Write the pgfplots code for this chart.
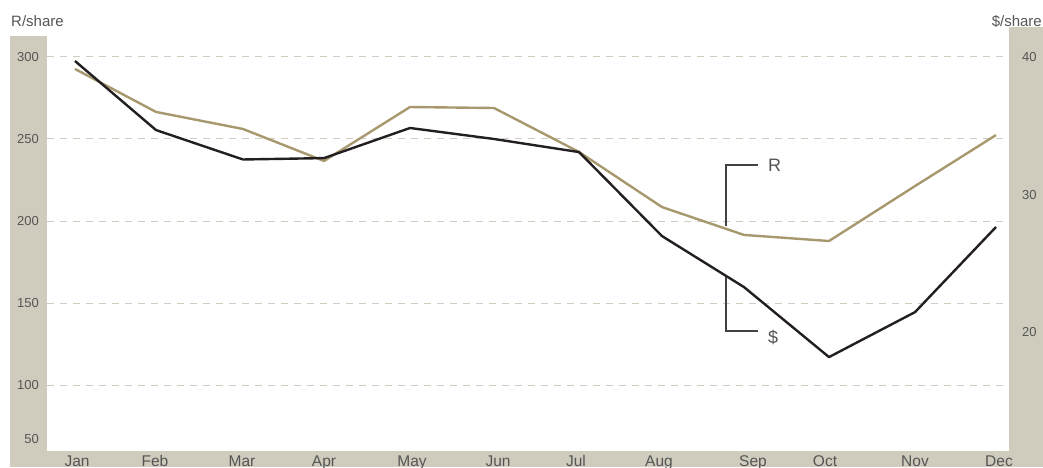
\documentclass[border=0pt]{standalone}
\usepackage{fontspec}
\setmainfont{Liberation Sans}
\usepackage{pgfplots}
\usepackage{pgfplotstable}
\pgfplotsset{compat=1.18}
\definecolor{band}{RGB}{207,203,189}
\definecolor{tanline}{RGB}{168,152,110}
\definecolor{ink}{RGB}{35,31,32}
\definecolor{gridc}{RGB}{208,205,193}
\definecolor{txt}{RGB}{85,85,85}

% x = horizontal position of each month, R/share values (left axis)
\pgfplotstableread{
x   R
75  292.7
156 266.5
243 256.1
324 236.6
410 269.5
494 268.9
579 242.1
662 208.5
744 191.5
829 187.8
915 221.3
996 252.4
}\rdata
% $/share values (right axis)
\pgfplotstableread{
x   D
75  39.71
156 34.69
243 32.55
324 32.65
410 34.84
494 34.04
579 33.09
662 26.98
744 23.27
829 18.18
915 21.45
996 27.64
}\ddata

\begin{document}
\begin{tikzpicture}[x=1pt,y=1pt]
\fill[band] (10,0) rectangle (47,431);
\fill[band] (10,0) rectangle (1043,16);
\fill[band] (1009,0) rectangle (1043,440);

\pgfplotsset{
  base/.style={
    scale only axis, width=962pt, height=415pt,
    at={(47pt,16pt)}, anchor=south west,
    xmin=47, xmax=1009,
    axis line style={draw=none},
    major tick length=0pt, minor tick length=0pt,
    ticklabel style={text=txt},
    /pgf/number format/assume math mode=true,
    clip=false,
  }
}

\begin{axis}[base,
  ymin=59.76, ymax=312.8,
  ytick={100,150,200,250,300},
  extra y ticks={67.1},
  extra y tick labels={50},
  extra y tick style={grid=none},
  ymajorgrids,
  grid style={gridc, line width=1pt, dash pattern=on 7pt off 6pt},
  yticklabel style={anchor=east, inner sep=0pt, xshift=-8pt, font=\fontsize{13}{15}\selectfont},
  xtick={77,155,242,324,412,498,576,659,753,825,915,999},
  xticklabels={Jan,Feb,Mar,Apr,May,Jun,Jul,Aug,Sep,Oct,Nov,Dec},
  xticklabel style={anchor=base, inner sep=0pt, yshift=-15pt, font=\fontsize{15.5}{17}\selectfont},
]
\addplot[tanline, line width=2.4pt, line join=round] table[x=x,y=R]{\rdata};
\end{axis}

\begin{axis}[base,
  ymin=11.35, ymax=41.53,
  axis y line*=right, axis x line=none,
  ytick={20,30,40},
  yticklabel style={anchor=west, inner sep=0pt, xshift=13pt, font=\fontsize{13}{15}\selectfont},
]
\addplot[ink, line width=2.4pt, line join=round] table[x=x,y=D]{\ddata};
\end{axis}

\node[anchor=base west, inner sep=0pt, text=txt, font=\fontsize{15}{17}\selectfont] at (11,440) {R/share};
\node[anchor=base east, inner sep=0pt, text=txt, font=\fontsize{15}{17}\selectfont] at (1042,440) {\$/share};

\draw[ink!85, line width=1.2pt] (726,241) -- (726,302) -- (758,302);
\draw[ink!85, line width=1.2pt] (726,190) -- (726,136) -- (758,136);
\node[anchor=west, inner sep=0pt, text=txt, font=\fontsize{18}{20}\selectfont] at (768,302) {R};
\node[anchor=west, inner sep=0pt, text=txt, font=\fontsize{18}{20}\selectfont] at (768,130) {\$};

\pgfresetboundingbox
\path[use as bounding box] (0,0) rectangle (1043,467);
\end{tikzpicture}
\end{document}
